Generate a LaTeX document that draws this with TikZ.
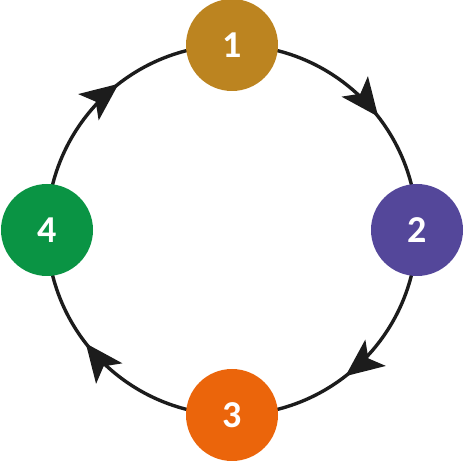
\documentclass[tikz,border=0pt]{standalone}
\usepackage{fontspec}
\setmainfont{Carlito}
\usetikzlibrary{arrows.meta,decorations.markings,backgrounds}
\definecolor{stepgold}{HTML}{BC8420}
\definecolor{steppurple}{HTML}{54479A}
\definecolor{steporange}{HTML}{EB650B}
\definecolor{stepgreen}{HTML}{0A9444}
\definecolor{ringline}{HTML}{1C1C1C}
\tikzset{
  stage/.style={circle,minimum size=92pt,inner sep=0pt,text=white,
    font=\fontsize{38}{38}\selectfont\bfseries},
  flow/.style={ringline,line width=3.4pt,
    postaction={decorate,decoration={markings,
      mark=at position 0.58 with {\arrow{Stealth[length=38pt,width=33pt,inset=9pt]}}}}}
}
\begin{document}
\begin{tikzpicture}[x=1pt,y=1pt]
      \useasboundingbox (0,0) rectangle (464,461);
      \draw[shift={(232,231)}]
        (90:185) node[stage,fill=stepgold] (1){1}
        (0:185) node[stage,fill=steppurple] (2){2}
        (270:185) node[stage,fill=steporange] (3){3}
        (180:185) node[stage,fill=stepgreen] (4){4};
      \begin{scope}[on background layer]
        \draw[flow] (1.center) arc[start angle=90,end angle=0,radius=185];
        \draw[flow] (2.center) arc[start angle=0,end angle=-90,radius=185];
        \draw[flow] (3.center) arc[start angle=-90,end angle=-180,radius=185];
        \draw[flow] (4.center) arc[start angle=-180,end angle=-270,radius=185];
      \end{scope}
    \end{tikzpicture}
\end{document}
